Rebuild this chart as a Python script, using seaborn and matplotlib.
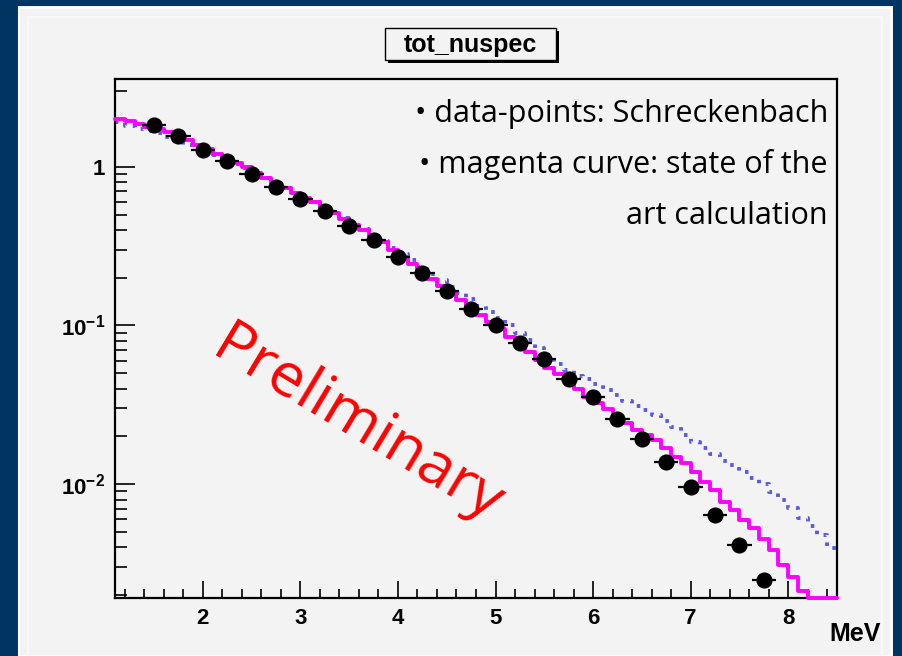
import numpy as np
import matplotlib
matplotlib.use("Agg")
import matplotlib.pyplot as plt
import seaborn as sns
from matplotlib.patches import Rectangle
from matplotlib.ticker import FixedLocator, FixedFormatter, MultipleLocator, NullFormatter, LogLocator

# ---------------- data ----------------
bin_lo, bin_hi, bin_width = 1.1, 8.5, 0.1

# magenta histogram ("state of the art calculation"), one value per 0.1 MeV bin from 1.1 MeV
magenta = [1.995, 1.928, 1.854, 1.786, 1.722, 1.652, 1.578, 1.479, 1.380,
           1.288, 1.208, 1.135, 1.059, 0.989, 0.916, 0.851, 0.791, 0.733, 0.684,
           0.638, 0.596, 0.552, 0.511, 0.470, 0.432, 0.398, 0.366, 0.335, 0.300,
           0.270, 0.245, 0.219, 0.197, 0.178, 0.160, 0.145, 0.130, 0.117, 0.105,
           0.0944, 0.0851, 0.0767, 0.0684, 0.0610, 0.0543, 0.0495, 0.0452, 0.0398, 0.0356,
           0.0323, 0.0296, 0.0269, 0.0244, 0.0220, 0.0204, 0.0190, 0.0169, 0.0149, 0.0136,
           0.0120, 0.0104, 0.00921, 0.00777, 0.00689, 0.00598, 0.00529, 0.00451, 0.00386, 0.00310,
           0.00262, 0.00211, 0.0, 0.0, 0.0]

# blue dotted histogram
blue = [1.919, 1.799, 1.738, 1.679, 1.622, 1.549, 1.462, 1.365, 1.303,
        1.245, 1.180, 1.117, 1.047, 0.977, 0.912, 0.847, 0.787, 0.733, 0.684,
        0.638, 0.596, 0.553, 0.513, 0.473, 0.437, 0.403, 0.370, 0.339, 0.309,
        0.282, 0.257, 0.234, 0.211, 0.193, 0.176, 0.160, 0.146, 0.133, 0.122,
        0.111, 0.100, 0.0902, 0.0813, 0.0724, 0.0653, 0.0575, 0.0525, 0.0484, 0.0457,
        0.0427, 0.0394, 0.0363, 0.0335, 0.0313, 0.0292, 0.0272, 0.0251, 0.0229, 0.0204,
        0.0184, 0.0170, 0.0155, 0.0141, 0.0132, 0.0120, 0.0110, 0.0100, 0.00891, 0.00794,
        0.00708, 0.00617, 0.00543, 0.00479, 0.00398]

# data points (Schreckenbach)
pts_x = [1.5, 1.75, 2.0, 2.25, 2.5, 2.75, 3.0, 3.25, 3.5, 3.75, 4.0, 4.25, 4.5,
         4.75, 5.0, 5.25, 5.5, 5.75, 6.0, 6.25, 6.5, 6.75, 7.0, 7.25, 7.5, 7.75]
pts_y = [1.83, 1.56, 1.27, 1.09, 0.90, 0.748, 0.627, 0.526, 0.425, 0.345, 0.271, 0.215, 0.166,
         0.127, 0.100, 0.078, 0.0615, 0.046, 0.0353, 0.0258, 0.0194, 0.0138, 0.00957, 0.00641,
         0.00415, 0.00249]
pts_xerr = 0.125

x_major = [2, 3, 4, 5, 6, 7, 8]
x_labels = ["2", "3", "4", "5", "6", "7", "8"]
y_major = [1e-2, 1e-1, 1.0]
y_labels = [r"$\mathbf{10^{-2}}$", r"$\mathbf{10^{-1}}$", "1"]
x_lim = (1.1, 8.5)
y_lim = (0.00192, 3.57)

title = "tot_nuspec"
notes = ["\u2022 data-points: Schreckenbach", "\u2022 magenta curve: state of the", "art calculation"]

# ---------------- style ----------------
sns.set_style("ticks")
plt.rcParams["font.family"] = ["Liberation Sans", "DejaVu Sans"]
plt.rcParams["mathtext.fontset"] = "custom"
plt.rcParams["mathtext.rm"] = "Liberation Sans:bold"
plt.rcParams["mathtext.bf"] = "Liberation Sans:bold"
plt.rcParams["mathtext.it"] = "Liberation Sans:bold"

W, H = 903, 656
fig = plt.figure(figsize=(W / 100, H / 100), dpi=100)
bg_blue = "#023461"
panel = "#f3f3f3"
fig.patch.set_facecolor(bg_blue)

def fx(px):
    return px / W

def fy(py):
    return 1 - py / H

# light panel (behind the axes)
fig.patches.append(Rectangle((fx(18), 0), fx(893) - fx(18), fy(6), transform=fig.transFigure,
                             facecolor=panel, edgecolor="none", zorder=-3))
fig.patches.append(Rectangle((fx(19.5), 0), fx(891) - fx(19.5), fy(8), transform=fig.transFigure,
                             facecolor="none", edgecolor="white", lw=1.5, zorder=-2))
fig.patches.append(Rectangle((fx(28), 0), fx(882) - fx(28), fy(17), transform=fig.transFigure,
                             facecolor="none", edgecolor="#fbfbfb", lw=1.2, zorder=-2))

ax = fig.add_axes([fx(115), fy(598), fx(837) - fx(115), fy(79) - fy(598)])
ax.set_zorder(1)
ax.set_facecolor(panel)
ax.set_yscale("log")
ax.set_xlim(*x_lim)
ax.set_ylim(*y_lim)

edges = np.round(np.arange(bin_lo, bin_hi + bin_width / 2, bin_width), 3)
# empty bins are drawn on the frame bottom, as ROOT does
mag_draw = np.clip(np.array(magenta, dtype=float), y_lim[0], None)
blue_draw = np.clip(np.array(blue, dtype=float), y_lim[0], None)

sns.lineplot(x=edges, y=np.append(blue_draw, blue_draw[-1]), drawstyle="steps-post",
             color="#5a5ae0", lw=2.8, linestyle=(0, (0.9, 1.9)), estimator=None,
             sort=False, ax=ax, zorder=2)
sns.lineplot(x=edges, y=np.append(mag_draw, mag_draw[-1]), drawstyle="steps-post",
             color="#ff00ff", lw=2.8, estimator=None, sort=False, ax=ax, zorder=3,
             clip_on=False)

ax.errorbar(pts_x, pts_y, xerr=pts_xerr, fmt="none", ecolor="black", elinewidth=1.6,
            capsize=0, zorder=4)
sns.scatterplot(x=pts_x, y=pts_y, color="black", s=135, edgecolor="black", linewidth=0,
                ax=ax, zorder=5)

for s in ax.spines.values():
    s.set_color("black")
    s.set_linewidth(1.6)

ax.xaxis.set_major_locator(FixedLocator(x_major))
ax.xaxis.set_major_formatter(FixedFormatter(x_labels))
ax.xaxis.set_minor_locator(MultipleLocator(0.2))
ax.yaxis.set_major_locator(FixedLocator(y_major))
ax.yaxis.set_major_formatter(FixedFormatter(y_labels))
ax.yaxis.set_minor_locator(LogLocator(base=10, subs=np.arange(2, 10)))
ax.yaxis.set_minor_formatter(NullFormatter())

ax.tick_params(axis="x", which="major", direction="in", length=12.5, width=1.2, pad=7,
               labelsize=16, top=False, bottom=True, color="black", labelcolor="black")
ax.tick_params(axis="x", which="minor", direction="in", length=6.5, width=1.2,
               top=False, bottom=True, color="black")
ax.tick_params(axis="y", which="major", direction="in", length=14.5, width=1.2, pad=7,
               labelsize=16, right=False, left=True, color="black", labelcolor="black")
ax.tick_params(axis="y", which="minor", direction="in", length=8.5, width=1.2,
               right=False, left=True, color="black")
for lab in ax.get_xticklabels() + ax.get_yticklabels():
    lab.set_fontweight("bold")
ax.set_xlabel("")
ax.set_ylabel("")

# axis title
fig.text(fx(881), fy(641), "MeV", ha="right", va="baseline", fontsize=18, fontweight="bold",
         color="black")

# title box with shadow
bx0, bx1, by0, by1 = 385, 556, 28, 60
fig.patches.append(Rectangle((fx(bx0 + 3), fy(by1 + 3)), fx(bx1) - fx(bx0), fy(by0) - fy(by1),
                             transform=fig.transFigure, facecolor="black", edgecolor="none", zorder=5))
fig.patches.append(Rectangle((fx(bx0), fy(by1)), fx(bx1) - fx(bx0), fy(by0) - fy(by1),
                             transform=fig.transFigure, facecolor=panel, edgecolor="black",
                             lw=1.0, zorder=6))
fig.text(fx((bx0 + bx1) / 2), fy((by0 + by1) / 2 + 1), title, ha="center", va="center",
         fontsize=18, fontweight="bold", color="black", zorder=7)

# annotations
note_family = ["Open Sans", "DejaVu Sans"]
for txt, base in zip(notes, [122, 173, 224]):
    fig.text(fx(828), fy(base), txt, ha="right", va="baseline", fontsize=22,
             family=note_family, color="black", zorder=7)

fig.text(fx(357), fy(425), "Preliminary", ha="center", va="center", rotation=-31,
         rotation_mode="anchor", fontsize=44, family=note_family, color="#ff0000", zorder=7)

fig.savefig("out.png", dpi=100, facecolor=fig.get_facecolor())
